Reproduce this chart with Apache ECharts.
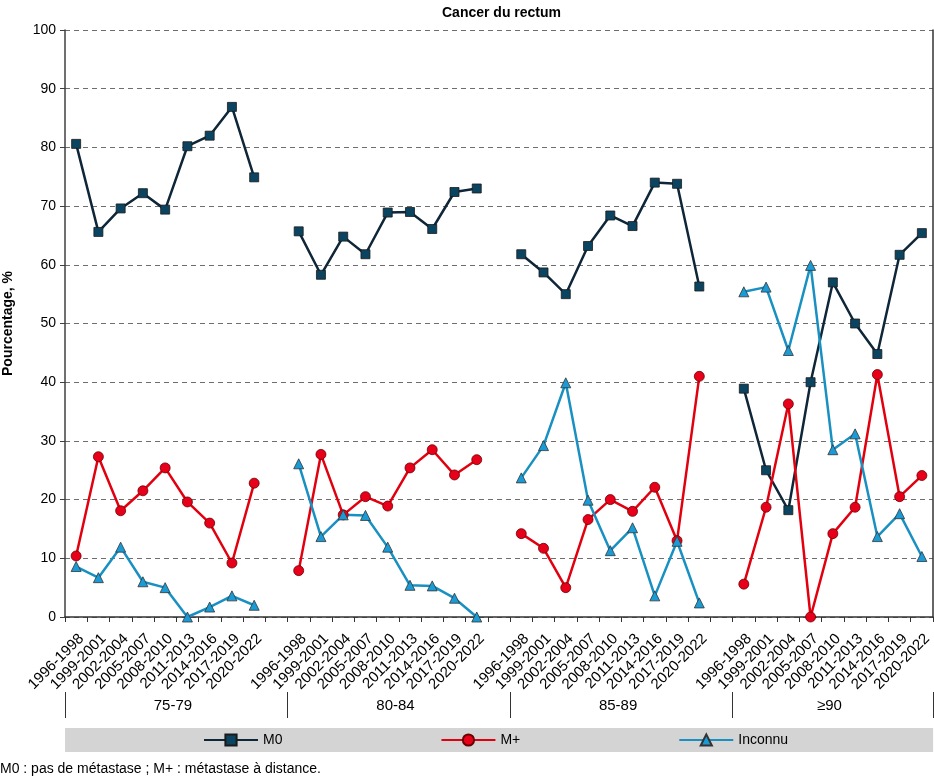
<!DOCTYPE html>
<html>
<head>
<meta charset="utf-8">
<script src="https://cdn.jsdelivr.net/npm/echarts@6/dist/echarts.min.js"></script>
<style>html,body{margin:0;padding:0;background:#fff}#c{width:934px;height:779px}</style>
</head>
<body>
<div id="c"></div>
<script>
const periods = ['1996-1998','1999-2001','2002-2004','2005-2007','2008-2010','2011-2013','2014-2016','2017-2019','2020-2022'];
const groups = ['75-79','80-84','85-89','≥90'];
const yTicks = [0,10,20,30,40,50,60,70,80,90,100];

const m0_75_79 = [80.6,65.6,69.6,72.2,69.4,80.2,82.0,86.9,74.9];
const m0_80_84 = [65.7,58.3,64.8,61.8,68.9,69.0,66.1,72.4,73.0];
const m0_85_89 = [61.8,58.7,55.0,63.2,68.4,66.6,74.0,73.8,56.3];
const m0_90    = [38.9,25.0,18.2,40.0,57.0,50.0,44.8,61.7,65.4];

const mp_75_79 = [10.4,27.3,18.1,21.5,25.4,19.6,16.0,9.2,22.8];
const mp_80_84 = [7.9,27.7,17.4,20.5,18.9,25.4,28.5,24.2,26.8];
const mp_85_89 = [14.2,11.7,5.0,16.6,20.0,18.0,22.1,13.0,41.0];
const mp_90    = [5.6,18.7,36.3,0,14.2,18.7,41.3,20.5,24.1];

const inc_75_79 = [8.6,6.7,11.9,6.0,5.0,0,1.7,3.6,2.0];
const inc_80_84 = [26.1,13.7,17.4,17.3,11.9,5.4,5.3,3.2,0];
const inc_85_89 = [23.7,29.2,39.9,19.9,11.3,15.2,3.6,12.9,2.4];
const inc_90    = [55.4,56.2,45.4,59.9,28.5,31.2,13.7,17.6,10.3];

function joinGroups(arrs, gap) {
  const out = [];
  arrs.forEach((a, i) => { out.push(...a); if (i < arrs.length - 1) out.push(gap); });
  return out;
}
const categories = joinGroups(groups.map(() => periods), '');
const m0 = joinGroups([m0_75_79, m0_80_84, m0_85_89, m0_90], null);
const mp = joinGroups([mp_75_79, mp_80_84, mp_85_89, mp_90], null);
const inc = joinGroups([inc_75_79, inc_80_84, inc_85_89, inc_90], null);

// group boundaries / centers in category units
const nCat = categories.length;
const groupStarts = groups.map((g, i) => i * (periods.length + 1));
const groupEnds = groups.map((g, i) => i < groups.length - 1 ? groupStarts[i + 1] : nCat);
const groupCenters = groups.map((g, i) => (groupStarts[i] + groupEnds[i]) / 2 - 0.15);

const FONT = "'Liberation Sans',Arial,sans-serif";

const chart = echarts.init(document.getElementById('c'), null, {renderer: 'canvas'});
chart.setOption({
  animation: false,
  backgroundColor: '#fff',
  title: [
    {text: 'Cancer du rectum', left: 437, top: 1,
     textStyle: {fontFamily: FONT, fontWeight: 'bold', fontSize: 14, color: '#000'}},
    {text: 'M0 : pas de métastase ; M+ : métastase à distance.', left: -5, top: 757,
     textStyle: {fontFamily: FONT, fontWeight: 'normal', fontSize: 14, color: '#000'}}
  ],
  grid: {left: 65, right: 1, top: 30, bottom: 162, containLabel: false, outerBoundsMode: 'none'},
  legend: {
    left: 65, top: 728, width: 1200,
    padding: [5, 145, 5, 138],
    backgroundColor: '#d4d4d4',
    itemWidth: 54, itemHeight: 14, itemGap: 158,
    textStyle: {fontFamily: FONT, fontSize: 14, color: '#000'},
    data: ['M0', 'M+', 'Inconnu']
  },
  xAxis: [
    {
      type: 'category', data: categories, boundaryGap: true,
      axisLine: {show: true, lineStyle: {color: '#333', width: 1.5}},
      axisTick: {show: true, interval: 0, length: 5, lineStyle: {color: '#333'}},
      axisLabel: {interval: 0, rotate: 45, margin: 14, verticalAlign: 'top',
        fontFamily: FONT, fontSize: 15, color: '#000'},
      splitLine: {show: false}
    },
    {
      // group names
      type: 'value', min: 0, max: nCat, position: 'bottom', offset: 75,
      axisLine: {show: false},
      axisTick: {show: false},
      axisLabel: {show: true, customValues: groupCenters, margin: 6,
        fontFamily: FONT, fontSize: 15, color: '#000',
        formatter: function (v) {
          const i = groupCenters.findIndex(c => Math.abs(c - v) < 1e-6);
          return i >= 0 ? groups[i] : '';
        }},
      splitLine: {show: false}
    },
    {
      // group separators
      type: 'category', data: categories, boundaryGap: true, position: 'bottom', offset: 75,
      axisLine: {show: false},
      axisTick: {show: true, length: 26, lineStyle: {color: '#333', width: 1},
        interval: function (index) { return groupStarts.indexOf(index) >= 0 || index === nCat; }},
      axisLabel: {show: false},
      splitLine: {show: false}
    }
  ],
  yAxis: [
    {
      type: 'value', min: 0, max: 100, interval: 10,
      name: 'Pourcentage, %', nameLocation: 'middle', nameGap: 50, nameRotate: 90,
      nameTextStyle: {fontFamily: FONT, fontWeight: 'bold', fontSize: 14, color: '#000'},
      axisLine: {show: true, lineStyle: {color: '#404040', width: 1.5}},
      axisTick: {show: true, length: 5, lineStyle: {color: '#404040'}},
      axisLabel: {fontFamily: FONT, fontSize: 14, color: '#000', margin: 9,
        formatter: v => yTicks.indexOf(v) >= 0 ? String(v) : ''},
      splitLine: {show: true, lineStyle: {color: '#6e6e6e', width: 1, type: [5, 4]}}
    },
    {
      type: 'value', min: 0, max: 100, position: 'right',
      axisLine: {show: true, lineStyle: {color: '#333', width: 1.5}},
      axisTick: {show: false}, axisLabel: {show: false}, splitLine: {show: false}
    }
  ],
  series: [
    {
      name: 'M0', type: 'line', data: m0, xAxisIndex: 0, yAxisIndex: 0,
      symbol: 'rect', symbolSize: 9, connectNulls: false,
      lineStyle: {color: '#0e2638', width: 2.5},
      itemStyle: {color: '#0b4460', borderColor: '#1a1a1a', borderWidth: 0.8}
    },
    {
      name: 'M+', type: 'line', data: mp, xAxisIndex: 0, yAxisIndex: 0,
      symbol: 'circle', symbolSize: 10, connectNulls: false,
      lineStyle: {color: '#e2000f', width: 2.5},
      itemStyle: {color: '#e8001a', borderColor: '#6b0000', borderWidth: 0.8}
    },
    {
      name: 'Inconnu', type: 'line', data: inc, xAxisIndex: 0, yAxisIndex: 0,
      symbol: 'triangle', symbolSize: 10, connectNulls: false,
      lineStyle: {color: '#1990c2', width: 2.5},
      itemStyle: {color: '#1a9bd6', borderColor: '#333', borderWidth: 0.8}
    }
  ]
});
</script>
</body>
</html>
